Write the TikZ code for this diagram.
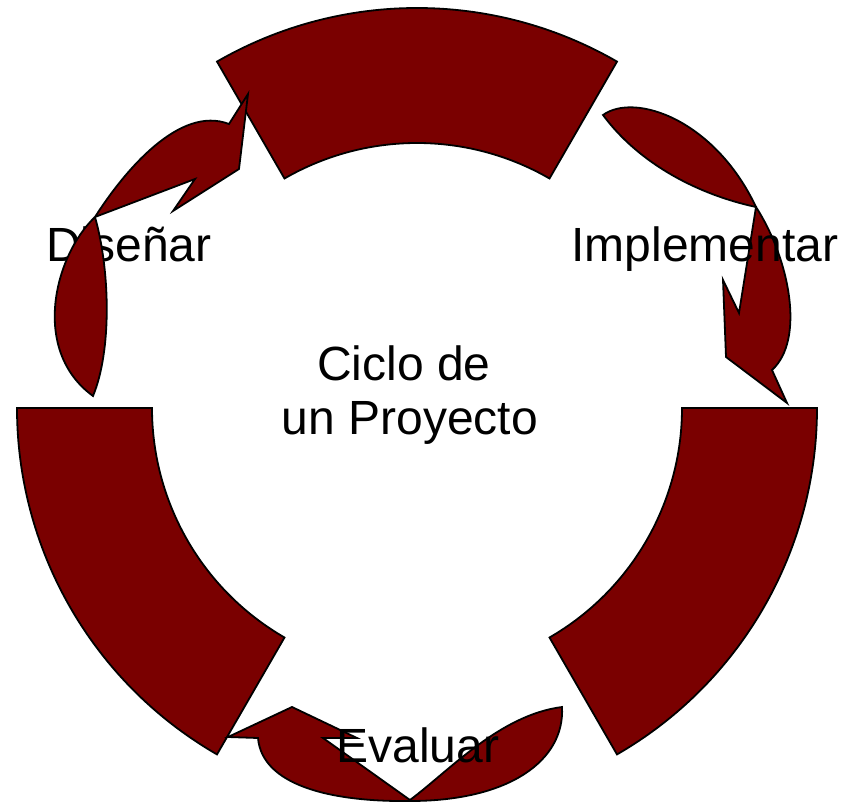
\documentclass[tikz,border=0pt]{standalone}
\usepackage{fontspec}
\setmainfont{Liberation Sans}
\definecolor{wine}{RGB}{122,0,0}
\begin{document}
\begin{tikzpicture}[x=0.5pt,y=-0.5pt,
  seg/.style={fill=wine,draw=black,line width=0.9pt,line join=miter},
  lbl/.style={font=\fontsize{24}{28}\selectfont,anchor=base,inner sep=0pt}]
\useasboundingbox (0,0) rectangle (856,802);
% annular sectors
\begin{scope}[shift={(417,408)}]
\filldraw[seg] (-60:400) arc[start angle=-60,end angle=-120,radius=400]
  -- (-120:265) arc[start angle=-120,end angle=-60,radius=265] -- cycle;
\filldraw[seg] (0:400) arc[start angle=0,end angle=60,radius=400]
  -- (60:265) arc[start angle=60,end angle=0,radius=265] -- cycle;
\filldraw[seg] (180:400) arc[start angle=180,end angle=120,radius=400]
  -- (120:265) arc[start angle=120,end angle=180,radius=265] -- cycle;
\end{scope}
% Disenar label (under its arrow)
\node[lbl] (dis) at (129,262) {Diseñar};
% Disenar arrow
\filldraw[seg] (93,396) .. controls (30,350) and (55,255) .. (95,217)
  .. controls (125,170) and (180,105) .. (229,124)
  -- (248,94) -- (239,169) -- (173,211) -- (195,179) -- (95,217)
  .. controls (110,270) and (112,350) .. (93,396) -- cycle;
% Implementar arrow
\filldraw[seg] (603,115) .. controls (635,92) and (715,120) .. (756,207)
  .. controls (790,260) and (805,340) .. (772,370)
  -- (787,403) -- (726,357) -- (723,280) -- (739,313) -- (756,207)
  .. controls (700,195) and (640,165) .. (603,115) -- cycle;
% Evaluar arrow
\filldraw[seg] (228,737) -- (292,707) -- (357,738) -- (323,738) -- (410,800)
  .. controls (450,770) and (500,715) .. (562,707)
  .. controls (565,760) and (510,801) .. (410,801)
  .. controls (330,802) and (262,785) .. (258,738)
  -- cycle;
% labels
\node[lbl] (imp) at (705,262) {Implementar};
\node[lbl] (eva) at (418,762) {Evaluar};
\node[lbl] (c1) at (404,380) {Ciclo de};
\node[lbl] (c2) at (410,434) {un Proyecto};
\end{tikzpicture}
\end{document}
